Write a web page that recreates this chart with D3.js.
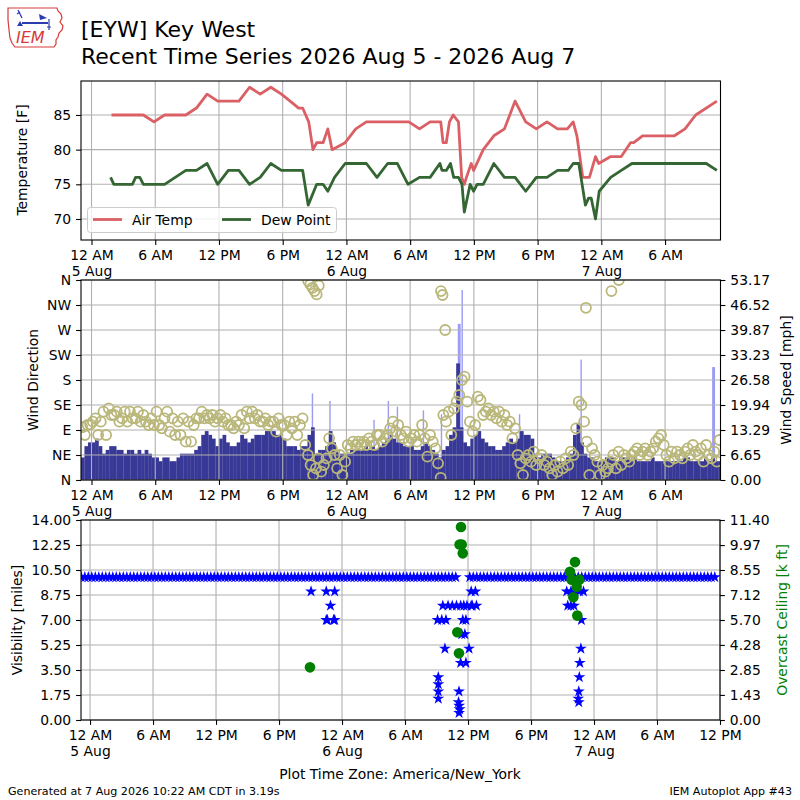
<!DOCTYPE html>
<html lang="en">
  <head>
    <meta charset="UTF-8" />
    <title>EYW Recent Time Series</title>
    <style>
      body { margin: 0; background: #fff; }
      svg text { font-family: "DejaVu Sans", sans-serif; }
    </style>
  </head>
  <body>
    <svg width="800" height="800"></svg>

    <script src="https://d3js.org/d3.v7.min.js"></script>
    <script>
      // all times are hours since 5 Aug 2026 00:00 (America/New_York)
      const tempHours = [1.88,4.88,5.88,6.88,8.88,9.88,10.88,11.88,13.88,14.88,15.88,16.88,17.88,18.7,19.5,19.88,20.45,20.85,21.2,21.8,22.25,22.65,23.88,24.88,25.88,29.88,30.88,31.88,32.88,33.1,33.4,33.7,34.05,34.55,34.85,35.1,35.3,35.75,35.98,36.88,37.88,38.88,39.88,40.88,41.88,42.88,43.88,44.8,45.35,45.7,46.25,46.88,47.45,47.75,48.88,49.88,50.75,51.05,51.88,54.88,55.88,56.88,58.88];
      const tempF = [85,85,84,85,85,86,88,87,87,89,88,89,88,87,86,86,84,80,81,81,83,80,81,83,84,84,83,84,84,81,81,84,85,84,76,75,76,78,77,80,82,83,87,84,83,84,83,83,84,82,76,76,79,78,79,79,81,81,82,82,83,85,87];

      const dewHours = [1.8,2.1,3.85,4.15,4.55,4.88,6.88,8.88,9.88,10.88,11.88,12.88,13.88,14.88,15.88,16.88,17.88,19.88,20.4,21.2,21.8,22.25,22.88,23.88,25.88,26.88,27.88,28.8,29.8,30.88,31.88,32.8,33.0,33.4,33.8,34.1,34.55,34.88,35.1,35.65,35.98,36.3,36.88,37.88,38.88,39.88,40.88,41.88,42.88,43.88,44.88,45.35,45.88,46.5,46.8,47.05,47.45,47.8,48.88,49.88,50.88,57.88,58.88];
      const dewF = [76,75,75,76,76,75,75,77,77,78,75,77,77,75,76,78,77,77,72,75,75,74,76,78,78,76,78,78,75,76,76,78,77,77,78,76,76,75,71,75,74,75,75,78,76,76,74,76,76,77,77,78,78,72,73,73,70,74,76,77,78,78,77];

      // wind speed, one value every 20 minutes starting 4 Aug 23:10
      const speedStart = -5 / 6;
      const speedStep = 1 / 3;
      const speedMph = [
        6,9,10, 10,11,9, 7,8,9, 9,8,8, 7,8,8, 7,8,7, 8,7,6, 6,5,6,
        6,5,5, 6,7,7, 7,7,8, 9,12,13, 12,11,9, 11,12,10, 9,9,10, 12,11,10,
        11,12,12, 12,13,13, 13,12,12, 11,9,9, 9,8,9, 9,12,14, 7,8,8, 9,13,10,
        8,7,7, 7,8,8, 8,8,9, 8,9,8, 9,10,11, 12,11,10, 10,9,9, 9,8,8,
        9,10,9, 8,7,6, 8,9,12, 14,31,14, 10,9,11, 12,13,11, 10,9,9, 8,8,9,
        10,11,10, 11,13,12, 12,11,7, 6,7,7, 7,6,5, 5,5,6, 7,12,15, 10,7,6,
        6,5,5, 5,6,6, 6,5,6, 6,6,5, 6,5,5, 5,5,6, 5,5,5, 5,5,5,
        5,5,6, 6,5,5, 5,5,6, 5,6,5, 5
      ];

      const gustHours = [20.8,22.45,26.6,27.95,28.8,31.25,32.95,34.55,34.62,34.69,34.9,40.3,46.1,58.5,58.57,58.64];
      const gustMph = [23,21,16,21,19.5,18.5,17.5,41.5,41.5,41.5,50.5,17.5,32,30,30,30];

      // wind direction, one value every 15 minutes starting 4 Aug 23:07
      const dirStart = -7 / 8;
      const dirStep = 1 / 4;
      const dirDeg = [
        95,81,99,100, 105,111,81,105, 123,81,129,117, 117,123,105,111,
        123,105,123,111, 111,123,105,117, 105,99,111,99, 123,99,93,111,
        123,87,111,81, 105,81,111,69, 105,69,99,111, 111,123,111,117,
        111,117,105,111, 117,105,111,99, 99,93,105,99, 117,93,123,111,
        123,111,117,105, 105,111,99,105, 105,87,111,99, 99,81,105,93,
        105,81,99,111, 63,45,27,9, 21,39,15,27, 39,75,57,45,
        21,45,9,33, 63,57,69,63, 69,63,69,63, 75,69,63,81,
        81,69,75,81, 93,105,87,99, 81,75,87,69, 75,81,69,81,
        99,75,42,81, 69,57,30,4, 117,105,123,81, 129,141,153,180,
        186,141,105,87, 99,150,144,117, 123,129,117,123, 111,123,105,117,
        99,105,75,93, 45,30,9,39, 45,33,51,27, 39,45,27,33,
        21,9,27,15, 33,21,39,27, 51,45,93,141, 135,105,69,9,
        57,45,33,9, 27,15,21,33, 45,21,51,27, 45,39,33,45,
        51,57,45,51, 57,45,51,57, 69,75,81,63, 45,33,51,39,
        51,45,39,51, 57,45,63,51, 45,57,33,63, 45,39,51,33, 72
      ];
      const dirExtraHours = [20.4,20.6,20.8,21.0,21.2,21.4,32.9,33.05,33.3,46.55,48.95,49.65];
      const dirExtraDeg = [358,352,346,340,334,350,340,333,270,310,340,360];

      // visibility, one value every 20 minutes starting 4 Aug 23:10 (null = missing)
      const visStart = -5 / 6;
      const visStep = 1 / 3;
      const visMiles = [
        10,10,10, 10,10,10, 10,10,10, 10,10,10, 10,10,10, 10,10,10, 10,10,10, 10,10,10,
        10,10,10, 10,10,10, 10,10,10, 10,10,10, 10,10,10, 10,10,10, 10,10,10, 10,10,10,
        10,10,10, 10,10,10, 10,10,10, 10,10,10, 10,10,10, 10,10,10, 10,10,10, 10,10,10,
        10,10,10, 10,10,10, 10,10,10, 10,10,10, 10,10,10, 10,10,10, 10,10,10, 10,10,10,
        10,10,10, 10,10,10, 10,10,10, 10,10,10, null,null,null, 10,10,10, 10,10,10, 10,10,10,
        10,10,10, 10,10,10, 10,10,10, 10,10,10, 10,10,10, 10,10,10, 10,10,10, 10,10,10,
        10,10,10, 10,10,10, 10,10,10, 10,10,10, 10,10,10, 10,10,10, 10,10,10, 10,10,10,
        10,10,10, 10,10,10, 10,10,10, 10,10,10, 10,10,null
      ];
      const visDipHours = [21.05,22.5,23.3,22.9,22.5,23.3,22.6,23.2,33.1,33.5,33.9,33.6,34.1,34.5,34.9,35.3,35.6,35.9,36.3,33.8,36.1,33.17,33.17,33.17,33.17,35.14,35.1,35.15,35.2,35.15,35.4,35.7,35.3,35.8,35.5,35.8,36.3,36.7,36.4,36.8,45.4,45.8,46.2,46.6,47.0,45.5,45.8,46.1,46.8,46.75,46.65,46.6,46.55,46.5,46.55];
      const visDipMiles = [9,9,9,8,7,7,7,7,7,7,7,8,8,8,8,8,8,8,8,5,5,3,2.5,2,1.5,2,1.25,1,0.75,0.5,6,6,4,4,7,7,9,9,8,8,9,9,9,9,9,8,8,8,7,5,4,3,2,1.5,1.25];

      const ceilHours = [20.95,35.33,35.2,35.4,35.5,34.98,35.14,46.19,45.71,45.87,46.6,46.35,46.03,46.41];
      const ceilKft = [3.0,11.0,10.0,10.0,9.5,5.0,3.8,9.0,8.45,8.0,8.0,7.6,7.0,5.95];

      const tickHours = [0,6,12,18,24,30,36,42,48,54,60];
      const hourLabels = ["12 AM","6 AM","12 PM","6 PM","12 AM","6 AM","12 PM","6 PM","12 AM","6 AM","12 PM"];
      const dayLabels = ["5 Aug","","","","6 Aug","","","","7 Aug","",""];
      const tempTicks = [70,75,80,85];
      const dirTicks = [0,45,90,135,180,225,270,315,360];
      const dirLabels = ["N","NE","E","SE","S","SW","W","NW","N"];
      const speedTicks = [0,6.65,13.29,19.94,26.58,33.23,39.87,46.52,53.17];
      const visTicks = [0,1.75,3.5,5.25,7,8.75,10.5,12.25,14];
      const ceilTicks = [0,1.43,2.85,4.28,5.70,7.12,8.55,9.97,11.40];

      const svg = d3.select("svg");
      const FS = 13.9;
      const TL = 4.9;
      const gridColor = "#b0b0b0";

      const L = 81, R = 720.5;
      const xTop = d3.scaleLinear().domain([-0.99, 59.22]).range([L, R]);
      const xBot = d3.scaleLinear().domain([-0.86, 60]).range([L, 720]);
      const yTemp = d3.scaleLinear().domain([66.97, 89.9]).range([240, 81]);
      const yDir = d3.scaleLinear().domain([0, 360]).range([480, 280]);
      const ySpd = d3.scaleLinear().domain([0, 53.17]).range([480, 280]);
      const yVis = d3.scaleLinear().domain([0, 14]).range([720, 520]);
      const yCeil = d3.scaleLinear().domain([0, 11.4]).range([720, 520]);

      const defs = svg.append("defs");
      const clip = (id, x, y) => {
        defs.append("clipPath").attr("id", id).append("rect")
          .attr("x", x.range()[0]).attr("y", y.range()[1])
          .attr("width", x.range()[1] - x.range()[0])
          .attr("height", y.range()[0] - y.range()[1]);
        return `url(#${id})`;
      };

      const grid = (x, y, xt, yt) => {
        const g = svg.append("g").attr("stroke", gridColor).attr("stroke-width", 1.1);
        g.selectAll(null).data(xt.filter(d => x(d) >= x.range()[0] && x(d) <= x.range()[1]))
          .join("line")
          .attr("x1", d => x(d)).attr("x2", d => x(d))
          .attr("y1", y.range()[1]).attr("y2", y.range()[0]);
        g.selectAll(null).data(yt).join("line")
          .attr("x1", x.range()[0]).attr("x2", x.range()[1])
          .attr("y1", d => y(d)).attr("y2", d => y(d));
      };

      const frame = (x, y) => {
        svg.append("rect")
          .attr("x", x.range()[0]).attr("y", y.range()[1])
          .attr("width", x.range()[1] - x.range()[0])
          .attr("height", y.range()[0] - y.range()[1])
          .attr("fill", "none").attr("stroke", "#000").attr("stroke-width", 1.1);
      };

      const tidy = g => {
        g.attr("font-size", FS).attr("font-family", '"DejaVu Sans", sans-serif');
        g.select(".domain").remove();
        g.selectAll(".tick line").attr("stroke", "#000").attr("stroke-width", 1.1);
        g.selectAll(".tick text").attr("fill", "#000");
      };

      const xAxis = (x, yPos) => {
        const vals = tickHours.filter(d => x(d) <= x.range()[1] + 0.5);
        const g = svg.append("g").attr("transform", `translate(0,${yPos})`)
          .call(d3.axisBottom(x).tickValues(vals).tickSize(TL).tickPadding(TL)
            .tickFormat(d => hourLabels[tickHours.indexOf(d)]));
        g.selectAll(".tick text").each(function (d) {
          const i = tickHours.indexOf(d);
          const t = d3.select(this);
          const first = t.text();
          t.text(null);
          t.append("tspan").attr("x", 0).text(first);
          if (dayLabels[i]) t.append("tspan").attr("x", 0).attr("dy", "1.2em").text(dayLabels[i]);
        });
        tidy(g);
      };

      const yAxisLeft = (y, vals, fmt) => {
        const g = svg.append("g").attr("transform", `translate(${L},0)`)
          .call(d3.axisLeft(y).tickValues(vals).tickSize(TL).tickPadding(TL).tickFormat(fmt));
        tidy(g);
      };
      const yAxisRight = (y, vals, fmt) => {
        const g = svg.append("g").attr("transform", `translate(${y === yCeil ? 720 : R},0)`)
          .call(d3.axisRight(y).tickValues(vals).tickSize(TL).tickPadding(TL).tickFormat(fmt));
        tidy(g);
      };

      const vLabel = (text, x, y, color) => {
        svg.append("text").attr("transform", `translate(${x},${y}) rotate(-90)`)
          .attr("text-anchor", "middle").attr("font-size", FS)
          .attr("fill", color || "#000").text(text);
      };

      // ---- header ----
      const logo = svg.append("g");
      logo.append("path")
        .attr("d", "M8,8 L57,8 L58,11 L61,14 L62,18 L60,22 L63,26 L62,30 L59,33 L58,37 L56,40 L56,44 L54,47 L15,47 L12,43 L10,38 L9,30 L8,20 Z")
        .attr("fill", "#fff").attr("stroke", "#d83a3a").attr("stroke-width", 1.2);
      const blue = "#2a3cb0";
      logo.append("path").attr("d", "M22,23 L48,23").attr("stroke", blue).attr("stroke-width", 2);
      logo.append("path").attr("d", "M18,10 L22,18 M17,14 L20,12").attr("stroke", blue).attr("stroke-width", 1.3).attr("fill", "none");
      logo.append("path").attr("d", "M17,26 L20,21 L23,26 Z").attr("fill", blue);
      logo.append("path").attr("d", "M39,14 L47,18 L40,20 Z").attr("fill", blue);
      logo.append("path").attr("d", "M49,19 L49,30 M47,27 L51,27").attr("stroke", blue).attr("stroke-width", 1.2);
      logo.append("text").attr("x", 16).attr("y", 43)
        .attr("font-family", '"Liberation Serif", serif').attr("font-style", "italic")
        .attr("font-size", 16).attr("fill", "#d83a3a").text("IEM");

      svg.append("text").attr("x", 81).attr("y", 37).attr("font-size", 22).text("[EYW] Key West");
      svg.append("text").attr("x", 81).attr("y", 64).attr("font-size", 22)
        .text("Recent Time Series 2026 Aug 5 - 2026 Aug 7");

      // ---- temperature panel ----
      grid(xTop, yTemp, tickHours, tempTicks);
      const tClip = clip("clipT", xTop, yTemp);
      const line = d3.line().x(d => xTop(d[0])).y(d => yTemp(d[1]));
      svg.append("path").datum(d3.zip(tempHours, tempF)).attr("clip-path", tClip)
        .attr("d", line).attr("fill", "none").attr("stroke", "#db6065")
        .attr("stroke-width", 2.8).attr("stroke-linejoin", "round");
      svg.append("path").datum(d3.zip(dewHours, dewF)).attr("clip-path", tClip)
        .attr("d", line).attr("fill", "none").attr("stroke", "#346633")
        .attr("stroke-width", 2.8).attr("stroke-linejoin", "round");
      frame(xTop, yTemp);
      xAxis(xTop, 240);
      yAxisLeft(yTemp, tempTicks, d3.format("d"));
      vLabel("Temperature [F]", 27, 160);

      const leg = svg.append("g");
      leg.append("rect").attr("x", 87.5).attr("y", 207.5).attr("width", 249).attr("height", 25)
        .attr("rx", 3).attr("fill", "#fff").attr("fill-opacity", 0.8)
        .attr("stroke", "#cccccc").attr("stroke-width", 1);
      [["Air Temp", "#db6065", 93], ["Dew Point", "#346633", 222]].forEach(([name, c, x0]) => {
        leg.append("line").attr("x1", x0).attr("x2", x0 + 29).attr("y1", 219.5).attr("y2", 219.5)
          .attr("stroke", c).attr("stroke-width", 2.8);
        leg.append("text").attr("x", x0 + 39).attr("y", 224.5).attr("font-size", FS).text(name);
      });

      // ---- wind panel ----
      const wClip = clip("clipW", xTop, yDir);
      const barW = xTop(speedStep) - xTop(0);
      const wind = svg.append("g").attr("clip-path", wClip);
      wind.selectAll(null).data(d3.zip(gustHours, gustMph)).join("rect")
        .attr("x", d => xTop(d[0]) - 0.7).attr("width", 1.4)
        .attr("y", d => ySpd(d[1])).attr("height", d => ySpd(0) - ySpd(d[1]))
        .attr("fill", "#9b9bf5");
      wind.selectAll(null).data(speedMph.map((v, i) => [speedStart + i * speedStep, v])).join("rect")
        .attr("x", d => xTop(d[0]) - barW / 2).attr("width", barW + 0.2)
        .attr("y", d => ySpd(d[1])).attr("height", d => ySpd(0) - ySpd(d[1]))
        .attr("fill", "#383896");
      grid(xTop, yDir, tickHours, dirTicks);
      const dirPts = dirDeg.map((v, i) => [dirStart + i * dirStep, v])
        .concat(d3.zip(dirExtraHours, dirExtraDeg));
      svg.append("g").attr("clip-path", wClip)
        .selectAll(null).data(dirPts).join("circle")
        .attr("cx", d => xTop(d[0])).attr("cy", d => yDir(d[1])).attr("r", 5)
        .attr("fill", "none").attr("stroke", "#bab77a").attr("stroke-width", 1.8);
      frame(xTop, yDir);
      xAxis(xTop, 480);
      yAxisLeft(yDir, dirTicks, (d, i) => dirLabels[i]);
      yAxisRight(ySpd, speedTicks, d3.format(".2f"));
      vLabel("Wind Direction", 38, 380);
      vLabel("Wind Speed [mph]", 791, 380);

      // ---- visibility / ceiling panel ----
      grid(xBot, yVis, tickHours, visTicks);
      const vClip = clip("clipV", xBot, yVis);
      const star = d3.symbol().type(d3.symbolStar).size(44);
      const visPts = visMiles.map((v, i) => [visStart + i * visStep, v]).filter(d => d[1] !== null)
        .concat(d3.zip(visDipHours, visDipMiles));
      svg.append("g").attr("clip-path", vClip)
        .selectAll(null).data(visPts).join("path")
        .attr("transform", d => `translate(${xBot(d[0])},${yVis(d[1])})`)
        .attr("d", star).attr("fill", "#0000ff");
      svg.append("g").attr("clip-path", vClip)
        .selectAll(null).data(d3.zip(ceilHours, ceilKft)).join("circle")
        .attr("cx", d => xBot(d[0])).attr("cy", d => yCeil(d[1])).attr("r", 5.3)
        .attr("fill", "#008000");
      frame(xBot, yVis);
      xAxis(xBot, 720);
      yAxisLeft(yVis, visTicks, d3.format(".2f"));
      yAxisRight(yCeil, ceilTicks, d3.format(".2f"));
      vLabel("Visibility [miles]", 22, 620);
      vLabel("Overcast Ceiling [k ft]", 787, 620, "#008000");

      // ---- footer ----
      svg.append("text").attr("x", 400).attr("y", 779).attr("text-anchor", "middle")
        .attr("font-size", FS).text("Plot Time Zone: America/New_York");
      svg.append("text").attr("x", 8).attr("y", 795).attr("font-size", 11.1)
        .text("Generated at 7 Aug 2026 10:22 AM CDT in 3.19s");
      svg.append("text").attr("x", 792).attr("y", 795).attr("text-anchor", "end")
        .attr("font-size", 11.1).text("IEM Autoplot App #43");
    </script>
  </body>
</html>
